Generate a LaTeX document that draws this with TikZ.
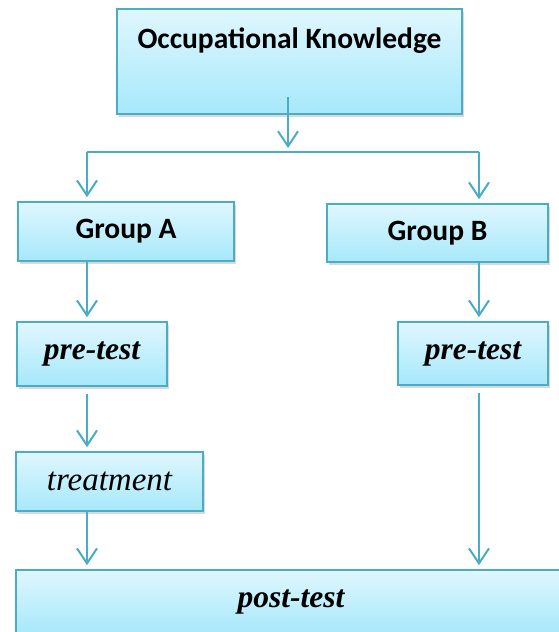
\documentclass[tikz,border=0pt]{standalone}
\usepackage{fontspec}
\setmainfont{Liberation Serif}
\newfontfamily\calibri{Carlito}
\usepackage{xcolor}
\usetikzlibrary{arrows.meta,shadows}

\definecolor{boxline}{RGB}{75,172,198}
\definecolor{boxtop}{RGB}{224,247,254}
\definecolor{boxbot}{RGB}{166,232,251}

\begin{document}
\begin{tikzpicture}[x=1pt, y=-1pt]
            \tikzset{
                blockbox/.style={draw=boxline, line width=1.6pt, top color=boxtop, bottom color=boxbot,
                        inner sep=0pt, drop shadow={shadow xshift=2pt, shadow yshift=-3pt, opacity=0.3}},
                flow/.style={draw=boxline, line width=2pt, -{Straight Barb[length=15pt,width=20pt]}, shorten >=4pt},
                headfont/.style={font=\calibri\bfseries\fontsize{29.5}{33}\selectfont},
                testfont/.style={font=\bfseries\itshape\fontsize{31.5}{36}\selectfont}
            }
            \useasboundingbox (0,0) rectangle (559,632);

            % ---- TOP ----
            \node[blockbox, headfont, minimum width=345pt, text height=39pt, text depth=66pt]
                (occ) at (289.5,61.5) {Occupational Knowledge};

            % ---- GROUPS ----
            \node[blockbox, headfont, minimum width=216pt, minimum height=59pt] (grpA) at (126,231.5) {Group A};
            \node[blockbox, headfont, minimum width=221pt, minimum height=58pt] (grpB) at (437.5,233) {Group B};

            % ---- PRE-TESTS ----
            \node[blockbox, testfont, minimum width=150pt, minimum height=64pt] (preA) at (92,354) {pre-test};
            \node[blockbox, testfont, minimum width=150pt, minimum height=63pt] (preB) at (473,353.5) {pre-test};

            % ---- TREATMENT ----
            \node[blockbox, font=\itshape\fontsize{33}{38}\selectfont, minimum width=187pt, minimum height=59pt]
                (treat) at (109.5,481.5) {treatment};

            % ---- POST-TEST ----
            \node[blockbox, testfont, minimum width=550pt, minimum height=64pt] (post) at (291,602) {post-test};

            % ---- CONNECTORS ----
            \coordinate (occout) at (288,97);
            \coordinate (split) at (288,152);
            \coordinate (lft) at (87,152);
            \coordinate (rgt) at (479,152);

            \draw[flow] (occout) -- (split);
            \draw[draw=boxline, line width=2pt] (lft) -- (rgt);
            \draw[flow] (lft) -- (lft |- grpA.north);
            \draw[flow] (rgt) -- (rgt |- grpB.north);

            \foreach \a/\b/\g in {grpA/preA/0, preA/treat/7, treat/post/0} {
                    \draw[flow, shorten <=\g pt] (\a.south -| lft) -- (\b.north -| lft);
                }
            \foreach \a/\b/\g in {grpB/preB/0, preB/post/7} {
                    \draw[flow, shorten <=\g pt] (\a.south -| rgt) -- (\b.north -| rgt);
                }

\end{tikzpicture}
\end{document}
